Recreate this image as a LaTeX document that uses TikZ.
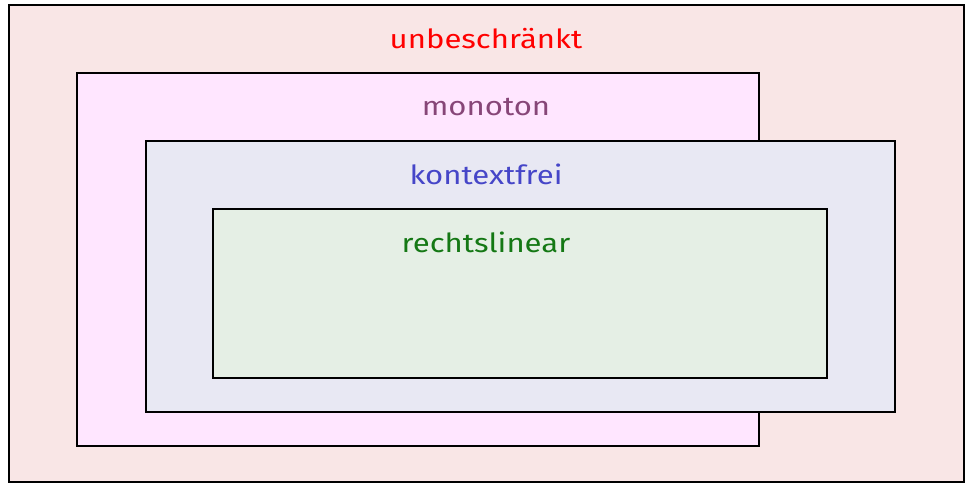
\documentclass[tikz,border=0pt]{standalone}
\usepackage{fontspec}
\usepackage{graphicx}
\setmainfont{Fira Sans}
\usetikzlibrary{positioning}
\definecolor{ubfill}{RGB}{249,230,230}
\definecolor{mofill}{RGB}{255,230,255}
\definecolor{kffill}{RGB}{232,232,243}
\definecolor{rlfill}{RGB}{229,239,229}
\definecolor{ubtext}{RGB}{255,0,0}
\definecolor{motext}{RGB}{135,70,120}
\definecolor{kftext}{RGB}{70,70,200}
\definecolor{rltext}{RGB}{20,120,20}
\newcommand{\widetext}[1]{\scalebox{1.18}[1]{#1}}
\tikzset{
  region/.style={draw=black, line width=1pt},
  classname/.style={anchor=base, font=\fontsize{15}{18}\selectfont}
}
\begin{document}
\begin{tikzpicture}[x=0.02cm, y=-0.02cm]
    	\useasboundingbox (0,0) rectangle (973,494);

    	\draw[region, fill=ubfill] (9,5) rectangle (964,482);
    	\draw[region, fill=mofill] (77,73) rectangle (759,446);
    	\draw[region, fill=kffill] (146,141) rectangle (895,412);
    	\draw[region, fill=rlfill] (213,209) rectangle (827,378);

    	\node[classname, text=ubtext] (unbeschraenkt) at (486,48) {\widetext{unbeschränkt}};
    	\node[classname, text=motext] (monoton) at (486,115) {\widetext{monoton}};
    	\node[classname, text=kftext] (kontextfrei) at (486,184) {\widetext{kontextfrei}};
    	\node[classname, text=rltext] (rechtslinear) at (486,252) {\widetext{rechtslinear}};
\end{tikzpicture}
\end{document}
